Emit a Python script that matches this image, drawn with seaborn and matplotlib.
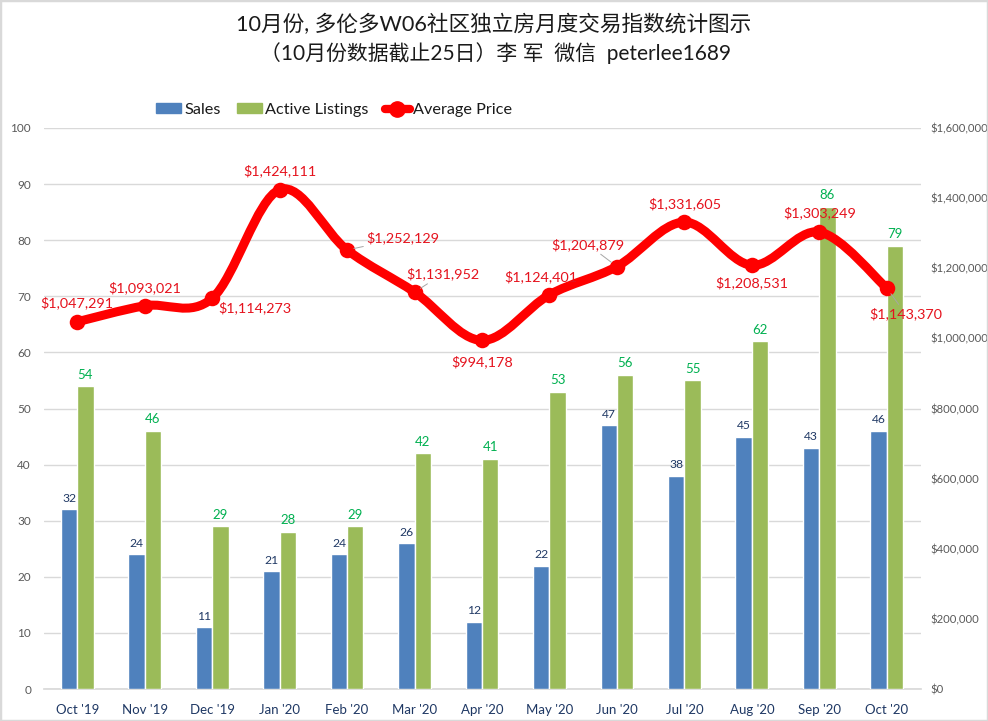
import numpy as np
import pandas as pd
import seaborn as sns
import matplotlib.pyplot as plt
from matplotlib.lines import Line2D
from matplotlib.patches import Patch, PathPatch, Rectangle
from matplotlib.path import Path
from matplotlib.ticker import FuncFormatter

# data
months = ["Oct '19", "Nov '19", "Dec '19", "Jan '20", "Feb '20", "Mar '20", "Apr '20",
          "May '20", "Jun '20", "Jul '20", "Aug '20", "Sep '20", "Oct '20"]
sales = [32, 24, 11, 21, 24, 26, 12, 22, 47, 38, 45, 43, 46]
listings = [54, 46, 29, 28, 29, 42, 41, 53, 56, 55, 62, 86, 79]
price = [1047291, 1093021, 1114273, 1424111, 1252129, 1131952, 994178,
         1124401, 1204879, 1331605, 1208531, 1303249, 1143370]

title_1 = "10月份, 多伦多W06社区独立房月度交易指数统计图示"
title_2 = "（10月份数据截止25日）李 军  微信  peterlee1689"

# label offset from each point in pixels
offsets = [(0, 19), (0, 18), (43, -9), (0, 19), (56, 12), (28, 18), (0, -21),
           (-9, 18), (-29, 22), (0, 18), (0, -17), (0, 19), (19, -26)]
# labels that get a small leader line
leaders = [4, 5, 8, 12]

BLUE = "#4F81BD"
GREEN = "#9BBB59"
RED = "#FF0000"
LABEL_RED = "#E5121D"
GRID = "#D9D9D9"
GREY = "#595959"
NAVY = "#1F3864"

sns.set_theme(style="white")
plt.rcParams["font.family"] = ["Lato", "Noto Sans CJK SC", "DejaVu Sans"]

df = pd.DataFrame({"month": months, "Sales": sales, "Active Listings": listings})
long_df = df.melt("month", var_name="series", value_name="value")

fig = plt.figure(figsize=(9.88, 7.21), dpi=100)
W, H = 988, 721
ax = fig.add_axes([43.5 / W, 1 - 689 / H, (920.5 - 43.5) / W, (689 - 128) / H])

sns.barplot(data=long_df, x="month", y="value", hue="series", ax=ax, width=0.485,
            palette=[BLUE, GREEN], saturation=1, legend=False, zorder=3)
ax.set_xlim(-0.5, 12.5)
ax.set_ylim(0, 100)
ax.set_yticks(range(0, 101, 10))
ax.set_xlabel("")
ax.set_ylabel("")
ax.grid(axis="y", color=GRID, lw=1)
ax.set_axisbelow(True)
ax.tick_params(axis="y", length=0, labelsize=8.5, labelcolor=GREY, pad=9)
ax.tick_params(axis="x", length=0, labelsize=9.5, labelcolor=NAVY, pad=11)
for side in ["top", "left", "right"]:
    ax.spines[side].set_visible(False)
ax.spines["bottom"].set_color(GRID)

ax.bar_label(ax.containers[0], padding=4, fontsize=8.7, color=NAVY)
ax.bar_label(ax.containers[1], padding=4, fontsize=9.5, color="#00B050")

ax2 = ax.twinx()
ax2.set_ylim(0, 1600000)
ax2.set_yticks(range(0, 1600001, 200000))
ax2.yaxis.set_major_formatter(FuncFormatter(lambda v, _: f"${v:,.0f}"))
ax2.tick_params(axis="y", length=0, labelsize=8.1, labelcolor=GREY, pad=7)
ax2.grid(False)
for side in ["top", "left", "right", "bottom"]:
    ax2.spines[side].set_visible(False)

# smoothed line like the spreadsheet draws it, bezier handles from neighbours
xs = np.arange(len(price), dtype=float)
ys = np.array(price, dtype=float)
verts = [(xs[0], ys[0])]
codes = [Path.MOVETO]
for i in range(len(xs) - 1):
    p0 = max(i - 1, 0)
    p3 = min(i + 2, len(xs) - 1)
    verts.append((xs[i] + (xs[i + 1] - xs[p0]) / 6, ys[i] + (ys[i + 1] - ys[p0]) / 6))
    verts.append((xs[i + 1] - (xs[p3] - xs[i]) / 6, ys[i + 1] - (ys[p3] - ys[i]) / 6))
    verts.append((xs[i + 1], ys[i + 1]))
    codes += [Path.CURVE4] * 3
ax2.add_patch(PathPatch(Path(verts, codes), fill=False, edgecolor=RED, lw=6.5, capstyle="round", zorder=4))
sns.scatterplot(x=xs, y=ys, ax=ax2, color=RED, s=125, linewidth=0, zorder=5, legend=False)

for i, (p, off) in enumerate(zip(price, offsets)):
    arrow = dict(arrowstyle="-", color="#A6A6A6", lw=0.7, shrinkA=0, shrinkB=5) if i in leaders else None
    ax2.annotate(f"${p:,}", xy=(i, p), xytext=off, textcoords="offset pixels", ha="center", va="center",
                 fontsize=10.4, color=LABEL_RED, arrowprops=arrow, zorder=6)

handles = [Patch(color=BLUE, label="Sales"), Patch(color=GREEN, label="Active Listings"),
           Line2D([0], [0], color=RED, lw=6, marker="o", ms=11, label="Average Price")]
fig.legend(handles=handles, loc="center", bbox_to_anchor=(334 / W, 1 - 110 / H), ncols=3, frameon=False,
           fontsize=11.7, labelcolor="#1a1a1a", handlelength=1.55, handleheight=0.6, handletextpad=0.2,
           columnspacing=1.0, borderpad=0)

fig.text(494 / W, 1 - 25 / H, title_1, ha="center", va="center", fontsize=15.6, color="#1a1a1a")
fig.text(496 / W, 1 - 53 / H, title_2, ha="center", va="center", fontsize=15, color="#1a1a1a")

# light frame around the screenshot
fig.add_artist(Rectangle((0, 0), 1, 1, transform=fig.transFigure, fill=False, edgecolor="#D9D9D9", lw=2.5))

fig.savefig("out.png", dpi=100, facecolor="white")
